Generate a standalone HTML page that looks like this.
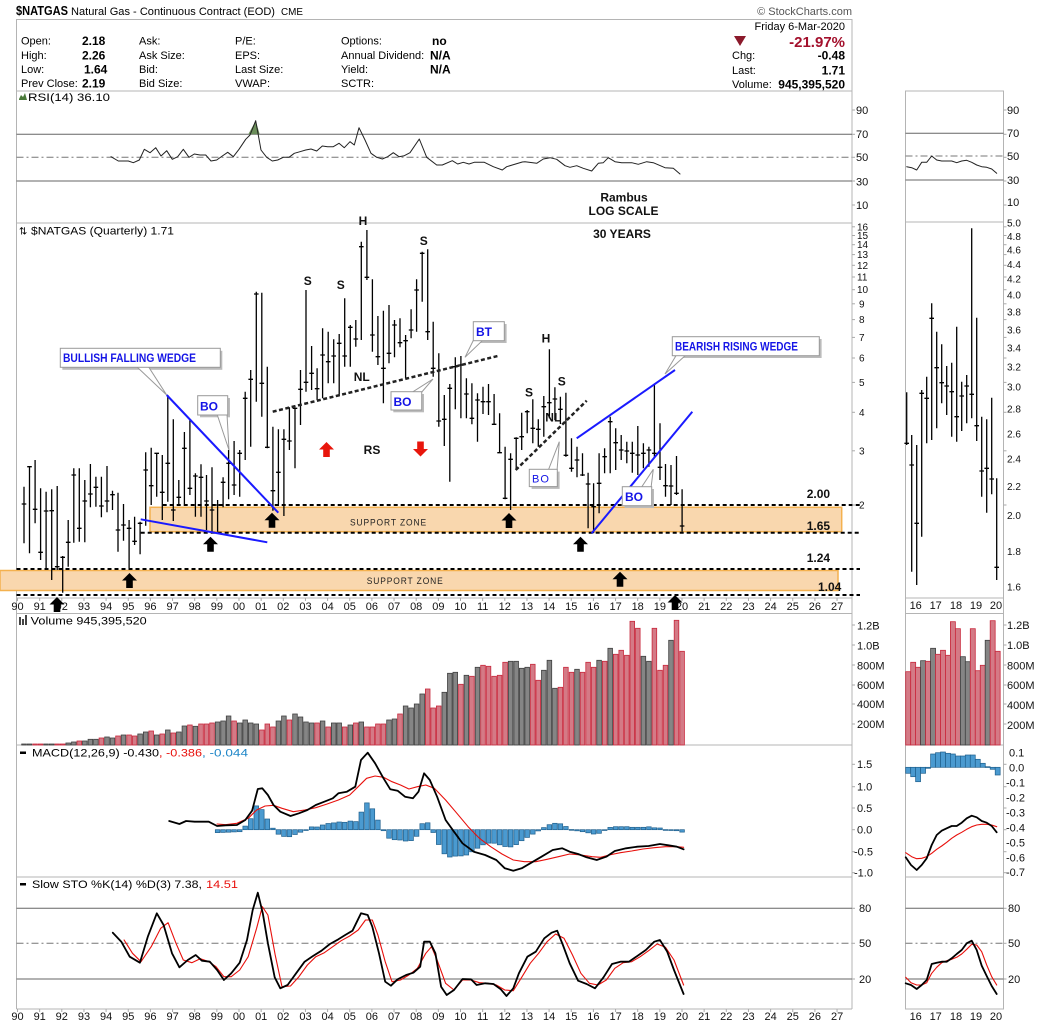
<!DOCTYPE html>
<html><head><meta charset="utf-8">
<style>
html,body{margin:0;padding:0;background:#fff;}
svg{display:block;font-family:"Liberation Sans",Arial,sans-serif;}
.t{font-size:11px;fill:#000;}
.v{font-size:12px;font-weight:bold;fill:#000;}
.ax{font-size:11px;fill:#111;}
.axs{font-size:10px;fill:#111;}
.k{font-size:12px;font-weight:bold;fill:#111;}
.bl{font-size:12px;font-weight:bold;fill:#1414e6;}
.sz{font-size:9.5px;fill:#222;letter-spacing:1px;}
</style></head><body>
<svg id="s" width="1050" height="1023" viewBox="0 0 1050 1023" xmlns="http://www.w3.org/2000/svg">
<rect x="0" y="0" width="1050" height="1023" fill="#fff"/>

<!-- Header -->
<text x="16" y="15" font-size="13" font-weight="bold" textLength="52" lengthAdjust="spacingAndGlyphs">$NATGAS</text>
<text x="71" y="15" class="t" textLength="204" lengthAdjust="spacingAndGlyphs">Natural Gas - Continuous Contract (EOD)</text>
<text x="281" y="15" font-size="10" textLength="22" lengthAdjust="spacingAndGlyphs">CME</text>
<text x="852" y="15" font-size="11" fill="#555" text-anchor="end">© StockCharts.com</text>
<rect x="16.5" y="19.5" width="835.5" height="71.5" fill="none" stroke="#b4b4b4"/>

<text x="21" y="44.5" class="t">Open:</text>
<text x="21" y="59" class="t">High:</text>
<text x="21" y="73" class="t">Low:</text>
<text x="21" y="87" class="t">Prev Close:</text>
<text x="82" y="45" class="v">2.18</text>
<text x="82" y="59.5" class="v">2.26</text>
<text x="84" y="73.5" class="v">1.64</text>
<text x="82" y="87.5" class="v">2.19</text>
<text x="139" y="44.5" class="t">Ask:</text>
<text x="139" y="59" class="t">Ask Size:</text>
<text x="139" y="73" class="t">Bid:</text>
<text x="139" y="87" class="t">Bid Size:</text>
<text x="235" y="44.5" class="t">P/E:</text>
<text x="235" y="59" class="t">EPS:</text>
<text x="235" y="73" class="t">Last Size:</text>
<text x="235" y="87" class="t">VWAP:</text>
<text x="341" y="44.5" class="t">Options:</text>
<text x="341" y="59" class="t">Annual Dividend:</text>
<text x="341" y="73" class="t">Yield:</text>
<text x="341" y="87" class="t">SCTR:</text>
<text x="432" y="45" class="v">no</text>
<text x="430" y="59.5" class="v">N/A</text>
<text x="430" y="73.5" class="v">N/A</text>

<text x="845" y="30" class="t" text-anchor="end">Friday  6-Mar-2020</text>
<polygon points="734,36 746,36 740,46" fill="#8b1a2b"/>
<text x="845" y="47" font-size="15" font-weight="bold" fill="#a3102c" text-anchor="end">-21.97%</text>
<text x="732" y="59" class="t">Chg:</text>
<text x="845" y="59.5" class="v" text-anchor="end">-0.48</text>
<text x="732" y="74" class="t">Last:</text>
<text x="845" y="74.5" class="v" text-anchor="end">1.71</text>
<text x="732" y="88" class="t">Volume:</text>
<text x="845" y="88.5" class="v" text-anchor="end">945,395,520</text>

<!-- Panel borders -->
<g stroke="#b4b4b4" stroke-width="1" fill="none">
<line x1="16.5" y1="19.5" x2="16.5" y2="1009"/>
<line x1="852" y1="19.5" x2="852" y2="1009"/>
<line x1="16.5" y1="223" x2="852" y2="223"/>
<line x1="16.5" y1="598" x2="852" y2="598"/>
<line x1="16.5" y1="613.5" x2="852" y2="613.5"/>
<line x1="16.5" y1="745" x2="852" y2="745"/>
<line x1="16.5" y1="877" x2="852" y2="877"/>
<line x1="16.5" y1="1009" x2="852" y2="1009"/>
<rect x="905.5" y="91" width="98" height="918"/>
<line x1="905.5" y1="222" x2="1003.5" y2="222"/>
<line x1="905.5" y1="598" x2="1003.5" y2="598"/>
<line x1="905.5" y1="613.5" x2="1003.5" y2="613.5"/>
<line x1="905.5" y1="745" x2="1003.5" y2="745"/>
<line x1="905.5" y1="877" x2="1003.5" y2="877"/>
</g>

<!-- RSI panel -->
<polygon points="19,99 21,95 23,97 25,93 27,100 19,100" fill="#4a7a3a"/>
<text x="28" y="101" class="t" textLength="82" lengthAdjust="spacingAndGlyphs">RSI(14) 36.10</text>
<g stroke-width="1">
<line x1="16.5" y1="134.3" x2="852" y2="134.3" stroke="#666"/>
<line x1="16.5" y1="157.3" x2="852" y2="157.3" stroke="#777" stroke-dasharray="7,3,2,3"/>
<line x1="16.5" y1="181" x2="852" y2="181" stroke="#666"/>
<line x1="905.5" y1="133.3" x2="1003.5" y2="133.3" stroke="#666"/>
<line x1="905.5" y1="156" x2="1003.5" y2="156" stroke="#777" stroke-dasharray="7,3,2,3"/>
<line x1="905.5" y1="180" x2="1003.5" y2="180" stroke="#666"/>
</g>
<polygon points="248.3,134.3 255.7,120.7 259.7,134.3" fill="#6b8e5a"/>
<g id="rsi"></g>
<text x="624" y="201.5" class="k" font-size="11" text-anchor="middle">Rambus</text>
<text x="623.5" y="215" class="k" text-anchor="middle">LOG SCALE</text>

<!-- Price panel -->
<text x="19" y="234.5" font-size="10" font-family="DejaVu Sans,sans-serif">⇅</text>
<text x="31" y="234.5" class="t" textLength="143" lengthAdjust="spacingAndGlyphs">$NATGAS (Quarterly) 1.71</text>
<text x="622" y="238" class="k" text-anchor="middle">30 YEARS</text>

<rect x="150" y="507.3" width="691.7" height="24.4" fill="#f9d7ae" stroke="#f4b14f" stroke-width="1.5"/>
<text x="350" y="525.5" class="sz" textLength="77" lengthAdjust="spacingAndGlyphs">SUPPORT ZONE</text>
<rect x="0" y="570.5" width="838" height="20" fill="#f9d7ae" stroke="#f4b14f" stroke-width="1.5"/>
<text x="366.7" y="584" class="sz" textLength="77" lengthAdjust="spacingAndGlyphs">SUPPORT ZONE</text>

<g id="bars"></g>

<g stroke="#000" stroke-width="2" stroke-dasharray="4,3" fill="none">
<line x1="162.7" y1="505" x2="860" y2="505"/>
<line x1="140.7" y1="532.7" x2="860" y2="532.7"/>
<line x1="16.5" y1="569" x2="860" y2="569"/>
<line x1="16.5" y1="595" x2="860" y2="595"/>
</g>
<g stroke="#222" stroke-width="2.5" stroke-dasharray="4,2.5" fill="none">
<line x1="272.7" y1="411.7" x2="497.7" y2="356"/>
<line x1="515.7" y1="470" x2="586.7" y2="400.7"/>
</g>
<g stroke="#1a1aff" stroke-width="2" fill="none">
<line x1="166.7" y1="395" x2="278.3" y2="512.7"/>
<line x1="140.7" y1="519.3" x2="267.3" y2="542.3"/>
<line x1="576.7" y1="438.3" x2="675" y2="370"/>
<line x1="591.7" y1="533.3" x2="692.3" y2="411.7"/>
</g>

<!-- labels 2.00 etc -->
<text x="806.7" y="498" class="k" font-size="11">2.00</text>
<text x="806.7" y="530" class="k" font-size="11">1.65</text>
<text x="806.7" y="562" class="k" font-size="11">1.24</text>
<text x="818" y="591" class="k" font-size="11">1.04</text>

<!-- pattern letters -->
<text x="363" y="225" class="k" font-size="11" text-anchor="middle">H</text>
<text x="307.7" y="285" class="k" font-size="11" text-anchor="middle">S</text>
<text x="340.7" y="289" class="k" font-size="11" text-anchor="middle">S</text>
<text x="423.7" y="245" class="k" font-size="11" text-anchor="middle">S</text>
<text x="361.7" y="381" class="k" font-size="11" text-anchor="middle">NL</text>
<text x="372" y="454" class="k" font-size="11" text-anchor="middle">RS</text>
<text x="546" y="342.5" class="k" font-size="11" text-anchor="middle">H</text>
<text x="529" y="396.5" class="k" font-size="11" text-anchor="middle">S</text>
<text x="561.7" y="385.5" class="k" font-size="11" text-anchor="middle">S</text>
<text x="553.3" y="421.5" class="k" font-size="11" text-anchor="middle">NL</text>

<!-- arrows -->
<g id="arrows"></g>

<!-- callouts -->
<g stroke="#999" stroke-width="1">
<rect x="62.3" y="350.8" width="160" height="19" fill="#bbb" stroke="none"/>
<polygon points="136,366 148,366 166.7,395" fill="#fff"/>
<rect x="60.3" y="348.3" width="160" height="19" fill="#fff"/>
<rect x="200" y="398" width="30" height="19.3" fill="#bbb" stroke="none"/>
<polygon points="217,414 227,414 229,450" fill="#fff"/>
<rect x="197.7" y="395.7" width="30" height="19.3" fill="#fff"/>
<rect x="393.3" y="394" width="30.7" height="18.3" fill="#bbb" stroke="none"/>
<polygon points="411,393 421,393 433,379" fill="#fff"/>
<rect x="391" y="391.7" width="30.7" height="18.3" fill="#fff"/>
<rect x="475.6" y="324" width="31" height="19" fill="#bbb" stroke="none"/>
<polygon points="474,339 484,339 465,357.3" fill="#fff"/>
<rect x="473.3" y="321.7" width="31" height="19" fill="#fff"/>
<rect x="531.6" y="471.6" width="28" height="17.3" fill="#bbb" stroke="none"/>
<polygon points="548,471 557,471 559.3,441.7" fill="#fff"/>
<rect x="529.3" y="469.3" width="28" height="17.3" fill="#fff"/>
<rect x="674.6" y="339" width="147" height="19" fill="#bbb" stroke="none"/>
<polygon points="677,354 687,354 665,374" fill="#fff"/>
<rect x="672.3" y="336.7" width="147" height="19" fill="#fff"/>
<rect x="624.6" y="489" width="29.4" height="19" fill="#bbb" stroke="none"/>
<polygon points="641,488 651,488 653.3,469.3" fill="#fff"/>
<rect x="622.3" y="486.7" width="29.4" height="19" fill="#fff"/>
</g>
<text x="63" y="362" class="bl" font-size="11" textLength="133" lengthAdjust="spacingAndGlyphs">BULLISH FALLING WEDGE</text>
<text x="200" y="410.5" class="bl">BO</text>
<text x="393.5" y="406" class="bl">BO</text>
<text x="476" y="336" class="bl">BT</text>
<text x="532" y="482.5" font-size="11" fill="#1414e6" letter-spacing="1">BO</text>
<text x="675" y="350.5" class="bl" font-size="11" textLength="123" lengthAdjust="spacingAndGlyphs">BEARISH RISING WEDGE</text>
<text x="625" y="501" class="bl">BO</text>

<!-- price axis labels -->
<g class="axs">
<text x="857" y="230.3">16</text><text x="857" y="239">15</text><text x="857" y="248.2">14</text>
<text x="857" y="258.1">13</text><text x="857" y="268.8">12</text><text x="857" y="280.5">11</text>
<text x="857" y="293.2">10</text><text x="859" y="307.3">9</text><text x="859" y="323.1">8</text>
<text x="859" y="340.9">7</text><text x="859" y="361.5">6</text><text x="859" y="385.9">5</text>
<text x="859" y="415.8">4</text><text x="859" y="454.3">3</text><text x="859" y="508.5">2</text>
</g>
<g class="axs">
<text x="1007" y="226.7">5.0</text><text x="1007" y="240">4.8</text><text x="1007" y="253.3">4.6</text>
<text x="1007" y="268">4.4</text><text x="1007" y="282.7">4.2</text><text x="1007" y="298.3">4.0</text>
<text x="1007" y="315.7">3.8</text><text x="1007" y="333.3">3.6</text><text x="1007" y="351.3">3.4</text>
<text x="1007" y="370.7">3.2</text><text x="1007" y="390.7">3.0</text><text x="1007" y="412.3">2.8</text>
<text x="1007" y="437.3">2.6</text><text x="1007" y="462.3">2.4</text><text x="1007" y="490">2.2</text>
<text x="1007" y="519">2.0</text><text x="1007" y="555">1.8</text><text x="1007" y="590.7">1.6</text>
</g>
<!-- RSI axis -->
<g class="ax">
<text x="856" y="114">90</text><text x="856" y="138">70</text><text x="856" y="161">50</text>
<text x="856" y="185.5">30</text><text x="856" y="209">10</text>
<text x="1007" y="114">90</text><text x="1007" y="137">70</text><text x="1007" y="160">50</text>
<text x="1007" y="184">30</text><text x="1007" y="206">10</text>
</g>

<!-- Volume panel -->
<g fill="#444"><rect x="19" y="617" width="2" height="8"/><rect x="22" y="619" width="2" height="6"/><rect x="25" y="615" width="2" height="10"/></g>
<text x="30.7" y="624.5" class="t" textLength="116" lengthAdjust="spacingAndGlyphs">Volume 945,395,520</text>
<g id="vol"></g>
<g class="ax">
<text x="857" y="629.5">1.2B</text><text x="857" y="649.5">1.0B</text><text x="857" y="669.5">800M</text>
<text x="857" y="689">600M</text><text x="857" y="708">400M</text><text x="857" y="728">200M</text>
<text x="1007" y="629">1.2B</text><text x="1007" y="649">1.0B</text><text x="1007" y="669.7">800M</text>
<text x="1007" y="689">600M</text><text x="1007" y="709">400M</text><text x="1007" y="729">200M</text>
</g>

<!-- MACD panel -->
<rect x="20" y="751.5" width="6" height="2.5" fill="#000"/>
<text x="32" y="756.5" class="t" textLength="127" lengthAdjust="spacingAndGlyphs">MACD(12,26,9) -0.430</text>
<text x="159" y="756.5" class="t" fill="#e8100c" style="fill:#e8100c" textLength="43" lengthAdjust="spacingAndGlyphs">, -0.386</text>
<text x="202" y="756.5" class="t" style="fill:#1e86c8" textLength="46" lengthAdjust="spacingAndGlyphs">, -0.044</text>
<g id="macd"></g>
<g class="ax">
<text x="857" y="768">1.5</text><text x="857" y="790.5">1.0</text><text x="857" y="812">0.5</text>
<text x="857" y="833.5">0.0</text><text x="854" y="855.5">-0.5</text><text x="854" y="876.5">-1.0</text>
<text x="1009" y="756.7">0.1</text><text x="1009" y="771.3">0.0</text><text x="1006" y="786.3">-0.1</text>
<text x="1006" y="801.3">-0.2</text><text x="1006" y="816.3">-0.3</text><text x="1006" y="831.3">-0.4</text>
<text x="1006" y="846.3">-0.5</text><text x="1006" y="861.3">-0.6</text><text x="1006" y="876">-0.7</text>
</g>

<!-- STO panel -->
<rect x="20" y="883" width="6" height="2.5" fill="#000"/>
<text x="32" y="888" class="t" textLength="170" lengthAdjust="spacingAndGlyphs">Slow STO %K(14) %D(3) 7.38,</text>
<text x="206" y="888" class="t" style="fill:#e8100c" textLength="32" lengthAdjust="spacingAndGlyphs">14.51</text>
<g stroke-width="1">
<line x1="16.5" y1="908.3" x2="852" y2="908.3" stroke="#666"/>
<line x1="16.5" y1="943.3" x2="852" y2="943.3" stroke="#777" stroke-dasharray="7,3,2,3"/>
<line x1="16.5" y1="979" x2="852" y2="979" stroke="#666"/>
<line x1="905.5" y1="908.3" x2="1003.5" y2="908.3" stroke="#666"/>
<line x1="905.5" y1="943.3" x2="1003.5" y2="943.3" stroke="#777" stroke-dasharray="7,3,2,3"/>
<line x1="905.5" y1="979" x2="1003.5" y2="979" stroke="#666"/>
</g>
<g id="sto"></g>
<g class="ax">
<text x="859" y="912">80</text><text x="859" y="947">50</text><text x="859" y="983">20</text>
<text x="1008" y="912">80</text><text x="1008" y="947">50</text><text x="1008" y="983">20</text>
</g>

<g id="ticks" stroke="#aaa" stroke-width="1"></g>

<!-- X axis labels -->
<g class="ax" text-anchor="middle">
<text x="17.5" y="610">90</text><text x="39.7" y="610">91</text><text x="61.8" y="610">92</text><text x="84" y="610">93</text><text x="106.1" y="610">94</text><text x="128.3" y="610">95</text><text x="150.4" y="610">96</text><text x="172.6" y="610">97</text><text x="194.7" y="610">98</text><text x="216.9" y="610">99</text>
<text x="239" y="610">00</text><text x="261.2" y="610">01</text><text x="283.3" y="610">02</text><text x="305.5" y="610">03</text><text x="327.6" y="610">04</text><text x="349.8" y="610">05</text><text x="371.9" y="610">06</text><text x="394.1" y="610">07</text><text x="416.2" y="610">08</text><text x="438.4" y="610">09</text>
<text x="460.5" y="610">10</text><text x="482.7" y="610">11</text><text x="504.8" y="610">12</text><text x="527" y="610">13</text><text x="549.1" y="610">14</text><text x="571.3" y="610">15</text><text x="593.4" y="610">16</text><text x="615.6" y="610">17</text><text x="637.7" y="610">18</text><text x="659.9" y="610">19</text>
<text x="682" y="610">20</text><text x="704.2" y="610">21</text><text x="726.3" y="610">22</text><text x="748.5" y="610">23</text><text x="770.6" y="610">24</text><text x="792.8" y="610">25</text><text x="814.9" y="610">26</text><text x="837.1" y="610">27</text>
<text x="915.7" y="609">16</text><text x="935.7" y="609">17</text><text x="956" y="609">18</text><text x="976" y="609">19</text><text x="996" y="609">20</text>
</g>
<g class="ax" text-anchor="middle">
<text x="17.5" y="1020">90</text><text x="39.7" y="1020">91</text><text x="61.8" y="1020">92</text><text x="84" y="1020">93</text><text x="106.1" y="1020">94</text><text x="128.3" y="1020">95</text><text x="150.4" y="1020">96</text><text x="172.6" y="1020">97</text><text x="194.7" y="1020">98</text><text x="216.9" y="1020">99</text>
<text x="239" y="1020">00</text><text x="261.2" y="1020">01</text><text x="283.3" y="1020">02</text><text x="305.5" y="1020">03</text><text x="327.6" y="1020">04</text><text x="349.8" y="1020">05</text><text x="371.9" y="1020">06</text><text x="394.1" y="1020">07</text><text x="416.2" y="1020">08</text><text x="438.4" y="1020">09</text>
<text x="460.5" y="1020">10</text><text x="482.7" y="1020">11</text><text x="504.8" y="1020">12</text><text x="527" y="1020">13</text><text x="549.1" y="1020">14</text><text x="571.3" y="1020">15</text><text x="593.4" y="1020">16</text><text x="615.6" y="1020">17</text><text x="637.7" y="1020">18</text><text x="659.9" y="1020">19</text>
<text x="682" y="1020">20</text><text x="704.2" y="1020">21</text><text x="726.3" y="1020">22</text><text x="748.5" y="1020">23</text><text x="770.6" y="1020">24</text><text x="792.8" y="1020">25</text><text x="814.9" y="1020">26</text><text x="837.1" y="1020">27</text>
<text x="915.7" y="1020">16</text><text x="935.7" y="1020">17</text><text x="956" y="1020">18</text><text x="976" y="1020">19</text><text x="996" y="1020">20</text>
</g>
<g id="arrows2"></g>
</svg>
<script>
(function(){
var NS='http://www.w3.org/2000/svg';
function el(p,tag,a){var e=document.createElementNS(NS,tag);for(var k in a)e.setAttribute(k,a[k]);p.appendChild(e);return e;}
function G(id){return document.getElementById(id);}
function pl(p,pts,stroke,w){el(p,'polyline',{points:pts.map(function(q){return q[0].toFixed(1)+','+q[1].toFixed(1);}).join(' '),fill:'none',stroke:stroke,'stroke-width':w,'stroke-linejoin':'round','stroke-linecap':'round'});}
function mp(ox,oy,sx,sy,pts){return pts.map(function(q){return [ox+q[0]/sx,oy+q[1]/sy];});}
function interp(pts,x){if(x<=pts[0][0])return pts[0][1];for(var k=1;k<pts.length;k++){if(x<=pts[k][0]){var a=pts[k-1],b=pts[k];return a[1]+(b[1]-a[1])*(x-a[0])/(b[0]-a[0]);}}return pts[pts.length-1][1];}
function X(i){return 24+i*5.53;}

/* price bars */
var P=[[800,970,852],[738,1000,740],[720,910,868],[805,1020,997],[815,1050,873],[808,1080,872],[798,1050,1040],[1008,1118,1012],[900,1040,967],[745,968,765],
[745,965,925],[780,967,843],[732,862,822],[770,860,802],[770,892,858],[738,877,843],[812,870,824],[818,995,930],[852,962,915],[900,1045,925],
[890,975,964],[905,1003,910],[697,917,750],[683,855,797],[698,830,700],[705,900,817],[525,845,730],[598,903,870],[780,855,832],[636,852,685],
[600,825,805],[760,890,768],[733,890,772],[765,930,843],[742,935,870],[840,935,855],[772,862,787],[690,838,730],[663,825,795],[690,830,700],
[515,720,535],[450,680,478],[215,545,222],[218,590,490],[440,685,682],[620,872,812],[628,858,757],[628,888,658],[562,690,663],[563,745,565],
[450,615,508],[210,515,487],[378,510,460],[445,540,506],[325,535,405],[335,490,425],[358,490,408],[342,528,370],[235,440,408],[315,440,322],
[300,380,357],[65,360,80],[30,180,172],[178,395,345],[288,435,410],[272,550,445],[255,430,400],[300,412,315],[295,382,368],[345,475,362],
[268,355,330],[178,335,210],[95,245,100],[88,360,335],[305,470,445],[400,620,603],[525,678,598],[492,785,505],[412,568,440],[408,595,435],
[475,595,522],[490,613,595],[520,665,540],[500,582,545],[492,585,545],[522,615,613],[580,700,698],[680,838,835],[700,870,718],[652,750,655],
[578,690,650],[570,640,575],[538,670,625],[598,680,628],[528,650,560],[388,595,548],[502,600,537],[530,612,568],[518,710,706],[655,755,745],
[680,772,720],[700,768,765],[758,925,792],[790,940,860],[700,880,790],[685,760,710],[590,760,605],[625,750,668],[645,720,690],[665,730,693],
[665,758,700],[618,765,705],[670,745,700],[680,740,690],[495,710,700],[610,780,742],[732,830,797],[735,855,798],[708,825,820],[808,935,918]];
var d='';
P.forEach(function(r,i){var x=X(i),t=220+r[0]/3,b=220+r[1]/3,c=220+r[2]/3;
 d+='M'+x.toFixed(1)+','+t.toFixed(1)+'V'+b.toFixed(1)+'M'+(x-2.3).toFixed(1)+','+c.toFixed(1)+'H'+(x+2.3).toFixed(1);});
el(G('bars'),'path',{d:d,stroke:'#000','stroke-width':1.3,fill:'none'});

/* mini price bars */
var MP=[[922,1080,1075],[1050,1460,1140],[1080,1500,1315],[915,1355,925],[875,1075,940],[655,1065,700],[740,1030,848],[778,955,893],[843,990,903],[833,1055,920],[725,1070,995],[890,1038,933],[870,1015,903],[430,1000,928],[698,1068,1022],[995,1235,1158],[1003,1283,1150],[938,1228,1182],[1180,1485,1447]];
d='';
MP.forEach(function(r,k){var x=895+(35+15*k)/3,t=85+r[0]/3,b=85+r[1]/3,c=85+r[2]/3;
 d+='M'+x.toFixed(1)+','+t.toFixed(1)+'V'+b.toFixed(1)+'M'+(x-2.3).toFixed(1)+','+c.toFixed(1)+'H'+(x+2.3).toFixed(1);});
el(G('bars'),'path',{d:d,stroke:'#000','stroke-width':1.3,fill:'none'});

/* volume */
var VC="ggrrggrrggrgggrggrgrrggrgrgrggrgrrrgggrggggrrrggrggggrgrggrgrgrrrrggrggggrrrgggrgrgrrrrrggggrrgggrrrgrrrgrgrrrrrggrrrgrr";
var VH=[417,417,417,417,417,417,417,417,414,411,408,408,403,403,399,396,399,393,390,390,393,387,381,378,390,387,375,384,381,363,
360,364,357,357,354,351,348,333,348,354,345,354,357,375,357,366,348,333,345,327,336,351,354,354,348,366,354,354,366,360,
354,351,366,366,357,357,345,342,327,303,309,297,267,252,309,303,262,205,202,238,211,214,187,181,184,214,211,172,169,169,
190,187,178,226,196,166,250,247,187,202,193,202,172,187,166,169,130,148,136,151,49,70,154,169,70,196,181,106,46,139];
var vg=G('vol');
VH.forEach(function(h,i){var x=X(i),top=605+h/3,red=VC[i]==='r';
 el(vg,'rect',{x:(x-2.3).toFixed(1),y:top.toFixed(1),width:4.6,height:(745-top).toFixed(1),fill:red?'#d47a86':'#858585',stroke:red?'#c8283c':'#404040','stroke-width':0.8});});
var MV=[[1,215],[1,187],[1,202],[0,182],[1,184],[0,145],[1,163],[1,151],[1,166],[1,65],[1,86],[0,170],[0,185],[1,86],[1,212],[1,196],[0,121],[1,62],[1,154]];
MV.forEach(function(r,k){var x=905.7+k*4.97,top=600+r[1]/3;
 el(vg,'rect',{x:x.toFixed(1),y:top.toFixed(1),width:4.97,height:(745-top).toFixed(1),fill:r[0]?'#d47a86':'#858585',stroke:r[0]?'#c8283c':'#404040','stroke-width':0.8});});

/* RSI */
var R1=[[333,170],[355,183],[385,183],[400,188],[418,180],[433,148],[450,158],[467,143],[483,168],[500,152],[517,178],[533,170],[550,148],[567,172],[583,162],[600,165],[617,165],[633,183],[650,180],[667,168],[683,157],[700,170],[717,148],[737,118],[750,105],[767,62],[783,150],[800,172],[817,183],[833,180],[850,172],[867,172],[883,160],[900,155],[917,150],[933,147],[950,153],[967,138],[983,140],[1000,140],[1017,130],[1033,143],[1050,125],[1063,135],[1077,83],[1095,120],[1113,160],[1130,172],[1147,177],[1163,170],[1180,158],[1197,170],[1213,167],[1230,158],[1258,117],[1280,172],[1310,195],[1327,195],[1357,182],[1373,192],[1390,187],[1407,192],[1423,187],[1453,187],[1480,200],[1507,210],[1520,200],[1537,195],[1567,186]];
var R2=[[0,230],[35,235],[55,222],[75,218],[95,223],[120,242],[135,247],[155,242],[175,250],[200,258],[220,235],[235,233],[250,218],[270,230],[290,233],[320,233],[340,238],[365,230],[385,233],[420,248],[445,250],[465,267]];
var rp=mp(0,100,3,3,R1).concat(mp(525,85,3,3,R2));
pl(G('rsi'),rp,'#222',1);
var RM=[[35,245],[50,248],[65,255],[80,232],[95,232],[110,213],[125,225],[140,228],[155,228],[170,228],[185,233],[200,228],[215,226],[230,232],[245,240],[260,245],[275,247],[290,252],[305,265]];
pl(G('rsi'),mp(895,85,3,3,RM),'#222',1);

/* MACD */
var mg=G('macd');
var H=[[385,278],[425,275],[435,258],[445,235],[455,195],[465,210],[475,240],[485,268],[495,285],[505,290],[515,290],[525,282],[535,275],[545,268],[555,258],[565,262],[575,252],[585,250],[595,248],[605,245],[615,248],[625,240],[635,248],[645,192],[655,186],[665,225],[675,255],[685,290],[695,300],[705,298],[715,303],[725,303],[735,300],[745,270],[752,232],[762,258],[772,290],[782,330],[792,350],[802,352],[812,345],[822,350],[832,340],[842,330],[852,318],[862,310],[872,308],[882,312],[892,318],[902,322],[912,318],[922,305],[932,295],[942,285],[952,275],[962,265],[972,255],[982,250],[992,250],[1002,258],[1012,268],[1022,272],[1032,275],[1042,278],[1052,282],[1062,280],[1072,270],[1082,262],[1092,260],[1102,260],[1112,260],[1122,262],[1132,262],[1142,262],[1152,260],[1162,264],[1172,264],[1182,270],[1192,272],[1202,272],[1212,278]];
var z=829.7;
for(var i=35;i<120;i++){var x=X(i),zx=x*1.773,v=740+interp(H,zx)/3;var y0=Math.min(v,z),y1=Math.max(v,z);
 el(mg,'rect',{x:(x-2.3).toFixed(1),y:y0.toFixed(1),width:4.6,height:Math.max(0.8,y1-y0).toFixed(1),fill:'#4a9ad0',stroke:'#1f5f8c','stroke-width':0.7});}
var MB=[[300,243],[318,252],[330,243],[345,245],[370,245],[385,258],[400,256],[420,255],[435,240],[447,212],[457,147],[465,145],[475,165],[485,195],[497,215],[515,228],[530,220],[545,210],[560,195],[575,185],[590,175],[600,160],[615,155],[630,140],[640,60],[652,38],[665,70],[680,115],[692,148],[705,152],[718,170],[732,175],[742,155],[752,100],[762,120],[775,170],[790,240],[805,275],[820,310],[840,335],[860,345],[880,360],[895,385],[910,392],[925,385],[940,370],[960,350],[980,330],[997,325],[1010,335],[1025,342],[1040,352],[1058,360],[1075,350],[1090,333],[1110,325],[1130,320],[1150,318],[1170,312],[1185,316],[1200,320],[1212,328]];
var MR=[[385,252],[400,254],[420,250],[440,235],[455,210],[470,198],[485,196],[500,205],[520,215],[540,210],[560,203],[580,192],[600,180],[620,165],[635,140],[650,115],[665,108],[680,112],[695,125],[710,135],[725,147],[740,140],[755,135],[770,145],[790,180],[810,220],[830,260],[850,295],[870,320],[890,342],[910,360],[930,365],[950,365],[970,358],[990,350],[1010,342],[1030,345],[1050,350],[1065,352],[1080,345],[1100,338],[1120,333],[1140,327],[1160,323],[1180,320],[1200,320],[1212,322]];
pl(mg,mp(0,740,1.773,3,MR),'#e8100c',1.1);
pl(mg,mp(0,740,1.773,3,MB),'#000',1.8);
/* mini MACD */
var MH=[520,530,545,520,505,462,458,456,460,462,468,468,465,465,478,490,500,508,525];
MH.forEach(function(h,k){var x=905.7+k*4.97,v=600+h/3,zz=767.3,y0=Math.min(v,zz),y1=Math.max(v,zz);
 el(mg,'rect',{x:x.toFixed(1),y:y0.toFixed(1),width:4.97,height:Math.max(0.8,y1-y0).toFixed(1),fill:'#4a9ad0',stroke:'#1f5f8c','stroke-width':0.7});});
var mMB=[[32,772],[48,795],[65,810],[80,795],[95,775],[110,735],[125,705],[140,692],[155,685],[170,678],[185,678],[200,668],[215,655],[230,647],[245,652],[260,663],[275,668],[290,678],[305,697]];
var mMR=[[32,758],[50,770],[65,776],[80,775],[95,770],[110,760],[125,748],[140,738],[155,727],[170,715],[185,705],[200,697],[215,688],[230,680],[245,675],[260,673],[275,673],[290,675],[305,680]];
pl(mg,mp(895,600,3,3,mMR),'#e8100c',1.1);
pl(mg,mp(895,600,3,3,mMB),'#000',1.8);

/* STO */
var sg=G('sto');
var SK=[[200,578],[215,605],[230,650],[248,668],[262,590],[278,520],[290,555],[305,640],[318,682],[333,660],[347,645],[358,662],[372,665],[385,690],[397,720],[410,700],[425,668],[438,600],[448,510],[457,458],[466,520],[475,610],[487,712],[497,745],[510,735],[525,700],[540,665],[555,648],[570,632],[585,612],[600,598],[612,585],[625,572],[640,520],[652,525],[660,560],[672,640],[683,725],[693,737],[705,718],[720,705],[733,698],[745,680],[752,605],[762,605],[772,640],[782,740],[792,765],[805,750],[820,717],[835,718],[845,735],[860,730],[875,732],[888,748],[898,768],[910,745],[920,700],[935,650],[950,635],[965,595],[978,578],[988,572],[998,615],[1010,670],[1025,722],[1040,732],[1055,745],[1070,712],[1085,672],[1100,665],[1115,665],[1130,648],[1145,630],[1160,605],[1170,600],[1183,635],[1195,690],[1212,762]];
var SD=[[220,600],[235,640],[250,665],[268,620],[285,565],[298,548],[312,610],[325,660],[340,668],[355,656],[370,665],[383,680],[397,710],[410,710],[425,690],[440,650],[455,565],[465,500],[475,525],[488,645],[500,740],[515,738],[530,710],[545,675],[560,650],[575,638],[590,620],[605,602],[620,588],[635,570],[648,540],[660,540],[670,585],[683,665],[695,725],[710,720],[725,705],[740,685],[755,640],[765,620],[775,660],[790,730],[805,750],[820,720],[835,720],[850,728],[865,730],[880,735],[895,750],[910,752],[925,712],[940,670],[955,640],[970,605],[985,582],[1000,595],[1015,645],[1030,700],[1045,730],[1060,735],[1075,720],[1090,685],[1105,668],[1120,665],[1135,650],[1150,632],[1165,612],[1180,622],[1195,660],[1212,735]];
pl(sg,mp(0,740,1.773,3,SD),'#e8100c',1.1);
pl(sg,mp(0,740,1.773,3,SK),'#000',1.8);
var mSK=[[32,1150],[48,1155],[65,1167],[80,1155],[95,1140],[110,1092],[125,1088],[140,1085],[155,1085],[170,1075],[185,1062],[200,1050],[215,1030],[230,1022],[245,1050],[260,1097],[275,1128],[290,1158],[305,1182]];
var mSD=[[32,1132],[48,1148],[65,1155],[80,1155],[95,1148],[110,1120],[125,1102],[140,1088],[155,1082],[170,1078],[185,1072],[200,1062],[215,1048],[230,1033],[245,1035],[260,1055],[275,1095],[290,1130],[305,1155]];
pl(sg,mp(895,600,3,3,mSD),'#e8100c',1.1);
pl(sg,mp(895,600,3,3,mSK),'#000',1.8);

/* arrows */
function up(p,cx,top,col){var s=7.5;el(p,'polygon',{points:[cx,top,cx+s,top+s,cx+3.3,top+s,cx+3.3,top+15,cx-3.3,top+15,cx-3.3,top+s,cx-s,top+s].join(','),fill:col});}
function dn(p,cx,top,col){var s=7.5;el(p,'polygon',{points:[cx-3.3,top,cx+3.3,top,cx+3.3,top+7.5,cx+s,top+7.5,cx,top+15,cx-s,top+7.5,cx-3.3,top+7.5].join(','),fill:col});}
var ag=G('arrows');
[[272,512.7],[210.5,536.7],[129.5,573],[509,513],[580.5,536.7],[620,571.7]].forEach(function(a){up(ag,a[0],a[1],'#000');});
var ag2=G('arrows2');
up(ag2,57,597,'#000');up(ag2,675,595,'#000');
up(ag,326.5,442,'#e8160c');dn(ag,420.5,441.5,'#e8160c');

/* ticks */
var tg=G('ticks');
var tk=[226.8,235.5,244.7,254.6,265.3,277,289.7,303.8,319.6,337.4,358,382.4,412.3,450.8,505,110,134.3,157.3,181,205,625,645,665,685,704,724,764.3,786.7,808,829.7,851.7,872.7,908.3,943.3,979];
tk.forEach(function(t){el(tg,'line',{x1:852,y1:t,x2:855,y2:t});el(tg,'line',{x1:1003.5,y1:t,x2:1006.5,y2:t});});
for(var j=0;j<38;j++){var xx=17.5+22.15*j;el(tg,'line',{x1:xx,y1:598,x2:xx,y2:601});el(tg,'line',{x1:xx,y1:1009,x2:xx,y2:1012});}
})();
</script>
</body></html>
